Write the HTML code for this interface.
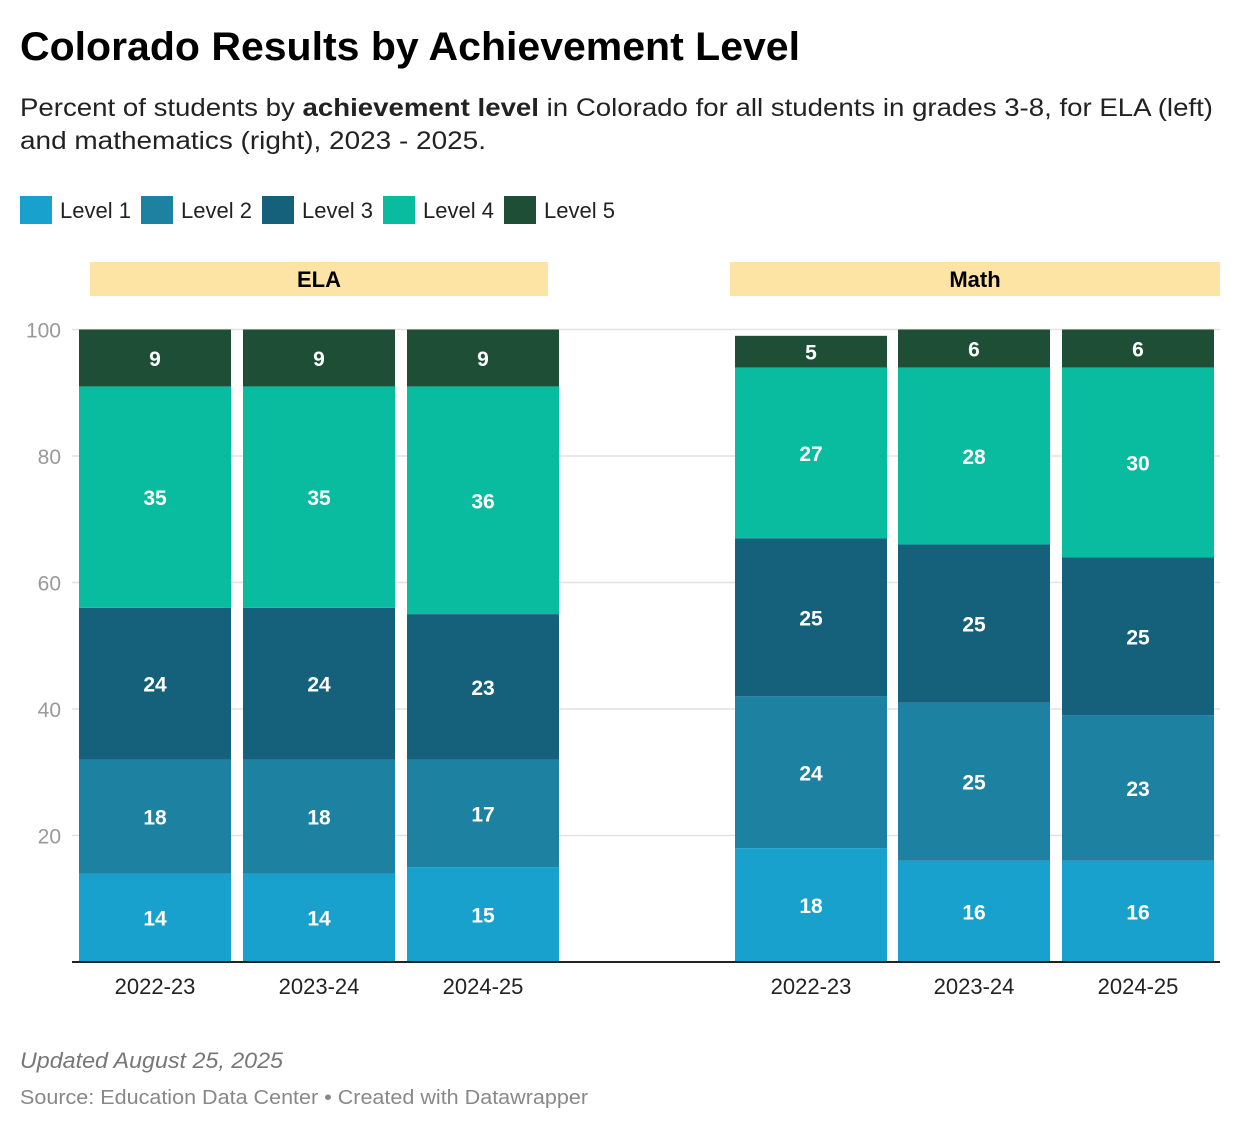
<!DOCTYPE html>
<html><head><meta charset="utf-8"><style>
body{margin:0;background:#fff;width:1240px;height:1130px;overflow:hidden;font-family:"Liberation Sans",Arial,sans-serif;}
</style></head><body>
<svg width="1240" height="1130" xmlns="http://www.w3.org/2000/svg" font-family="Liberation Sans, Arial, sans-serif">
<text x="20" y="60" font-size="40" font-weight="bold" fill="#000" textLength="780" lengthAdjust="spacingAndGlyphs">Colorado Results by Achievement Level</text>
<text x="20" y="116" font-size="25" fill="#222" textLength="1193" lengthAdjust="spacingAndGlyphs">Percent of students by <tspan font-weight="bold">achievement level</tspan> in Colorado for all students in grades 3-8, for ELA (left)</text>
<text x="20" y="149" font-size="25" fill="#222" textLength="466" lengthAdjust="spacingAndGlyphs">and mathematics (right), 2023 - 2025.</text>
<g id="legend"></g>
<rect x="90" y="262" width="458" height="34" fill="#fde4a5"/>
<text x="319" y="287" font-size="22" font-weight="bold" text-anchor="middle">ELA</text>
<rect x="730" y="262" width="490" height="34" fill="#fde4a5"/>
<text x="975" y="287" font-size="22" font-weight="bold" text-anchor="middle">Math</text>
<g id="grid"></g><g id="bars"></g>
<line x1="72" x2="1220" y1="962" y2="962" stroke="#222" stroke-width="2"/>
<text x="20" y="1068" font-size="22" font-style="italic" fill="#777" textLength="263" lengthAdjust="spacingAndGlyphs">Updated August 25, 2025</text>
<text x="20" y="1104" font-size="20" fill="#888" textLength="568" lengthAdjust="spacingAndGlyphs">Source: Education Data Center • Created with Datawrapper</text>
</svg>
<script>
const levels=["Level 1","Level 2","Level 3","Level 4","Level 5"];
const colors=["#18a1cd","#1d81a2","#15607a","#09bb9f","#1e4f36"];
const years=["2022-23","2023-24","2024-25"];
const elaL1=[14,14,15],elaL2=[18,18,17],elaL3=[24,24,23],elaL4=[35,35,36],elaL5=[9,9,9];
const mathL1=[18,16,16],mathL2=[24,25,23],mathL3=[25,25,25],mathL4=[27,28,30],mathL5=[5,6,6];
const yTicks=[20,40,60,80,100];
const NS="http://www.w3.org/2000/svg";
function y(v){return 962-v*6.325;}
function mk(tag,a,p){const e=document.createElementNS(NS,tag);for(const k in a)e.setAttribute(k,a[k]);p.appendChild(e);return e;}
const grid=document.getElementById('grid');
yTicks.forEach(t=>{
 const l=mk('line',{x1:72,x2:1220,y1:y(t),y2:y(t),stroke:"#e2e2e2","stroke-width":1.5},grid);
 
 
 const tx=mk('text',{x:61,y:y(t)+8,"font-size":21,fill:"#999","text-anchor":"end"},grid);tx.textContent=t;
 
 
});
const lg=document.getElementById('legend');
const lgX=[20,141,262,383,504];
levels.forEach((n,i)=>{
 const r=mk('rect',{x:lgX[i],y:196,width:32,height:28,fill:colors[i]},lg);
 
 
 const t=mk('text',{x:lgX[i]+40,y:218,"font-size":22,fill:"#222"},lg);t.textContent=n;
 
 
});
const bars=document.getElementById('bars');
function panel(name,series,xs){
 years.forEach((yr,j)=>{
  let cum=0;const x0=xs[j],w=152;
  series.forEach((s,i)=>{
   const v=s[j];const top=y(cum+v),bot=y(cum);
   const r=mk('rect',{x:x0,y:top,width:w,height:bot-top,fill:colors[i]},bars);
   
   
   const t=mk('text',{x:x0+w/2,y:(top+bot)/2+8,"font-size":21,"font-weight":"bold",fill:"#fff","text-anchor":"middle"},bars);t.textContent=v;
   
   
   cum+=v;
  });
  const xl=mk('text',{x:x0+w/2,y:994,"font-size":22,fill:"#222","text-anchor":"middle"},bars);xl.textContent=yr;
  
  
 });
}
panel('ela',[elaL1,elaL2,elaL3,elaL4,elaL5],[79,243,407]);
panel('math',[mathL1,mathL2,mathL3,mathL4,mathL5],[735,898,1062]);
</script>
</body></html>
